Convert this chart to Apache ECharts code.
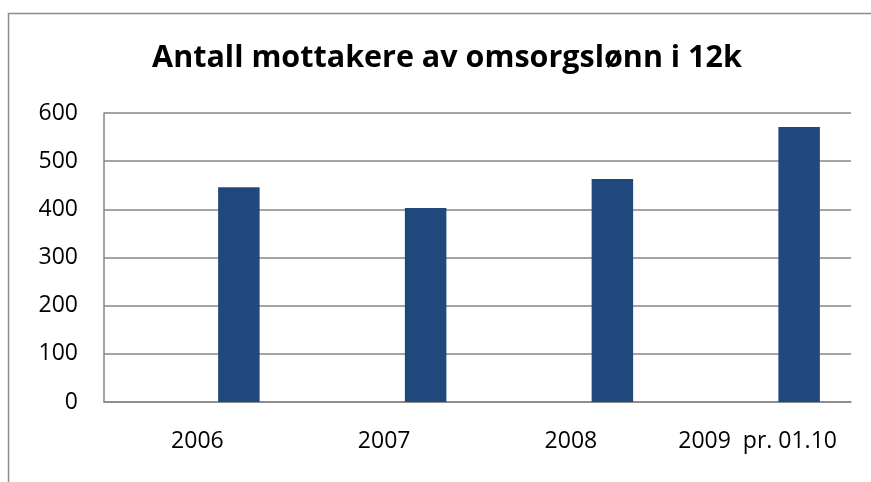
<!DOCTYPE html>
<html><head><meta charset="utf-8">
<script src="https://cdn.jsdelivr.net/npm/echarts@6/dist/echarts.min.js"></script>
<style>html,body{margin:0;padding:0;background:#fff}#c{width:871px;height:482px}</style>
</head><body><div id="c"></div>
<script>
const titleText = "Antall mottakere av omsorgslønn i 12k";
const categories = ["2006", "2007", "2008", "2009  pr. 01.10"];
const values = [446, 403, 463, 571];
const emptyA = ["-", "-", "-", "-"];
const emptyB = ["-", "-", "-", "-"];
const yTicks = [0, 100, 200, 300, 400, 500, 600];

const chart = echarts.init(document.getElementById('c'), null, {renderer: 'canvas'});
const font = '"Open Sans", sans-serif';
const barCommon = {type: 'bar', barWidth: 41.5, barGap: '0%', itemStyle: {color: '#1F497D'}};
chart.setOption({
  animation: false,
  backgroundColor: '#fff',
  graphic: [{type: 'polyline', shape: {points: [[8.5, 500], [8.5, 13.5], [900, 13.5]]}, style: {fill: null, stroke: '#8c8c8c', lineWidth: 1.5}, silent: true}],
  title: {text: titleText, left: 442, textAlign: 'center', top: 38, textStyle: {fontFamily: font, fontWeight: 'bold', fontSize: 30.5, color: '#000'}},
  grid: {left: 104, right: 20, top: 113, bottom: 80},
  xAxis: {type: 'category', data: categories,
    axisLine: {lineStyle: {color: '#868686', width: 1.5}}, axisTick: {show: false},
    axisLabel: {interval: 0, fontFamily: font, fontSize: 23, color: '#000', margin: 28}},
  yAxis: {type: 'value', min: yTicks[0], max: yTicks[yTicks.length - 1], interval: 100,
    axisLine: {show: true, lineStyle: {color: '#868686', width: 1.5}}, axisTick: {show: false},
    splitLine: {lineStyle: {color: '#868686', width: 1.5}},
    axisLabel: {fontFamily: font, fontSize: 23, color: '#000', margin: 26}},
  series: [
    Object.assign({data: emptyA}, barCommon),
    Object.assign({data: emptyB}, barCommon),
    Object.assign({data: values}, barCommon)
  ]
});
</script></body></html>
